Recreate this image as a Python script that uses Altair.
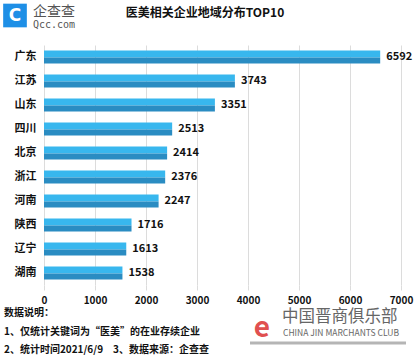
import altair as alt
import pandas as pd

regions = ["广东", "江苏", "山东", "四川", "北京", "浙江", "河南", "陕西", "辽宁", "湖南"]
counts = [6592, 3743, 3351, 2513, 2414, 2376, 2247, 1716, 1613, 1538]
x_ticks = [0, 1000, 2000, 3000, 4000, 5000, 6000, 7000]

title_text = "医美相关企业地域分布TOP10"
notes = ["数据说明：", "1、仅统计关键词为“医美”的在业存续企业",
         "2、统计时间2021/6/9\u30003、数据来源：企查查"]

df = pd.DataFrame({"region": regions, "count": counts})
FONT = "Noto Sans CJK SC"

y_enc = alt.Y("region:N", sort=regions, title=None,
              axis=alt.Axis(labelFont=FONT, labelFontSize=11, labelFontWeight="bold",
                            labelColor="#111", ticks=False, domain=False, labelPadding=8))
x_enc = alt.X("count:Q", title=None,
              scale=alt.Scale(domain=[0, 7000], nice=False),
              axis=alt.Axis(values=x_ticks, grid=True, gridColor="#dcdcdc", domain=False,
                            ticks=True, tickColor="#dcdcdc", tickSize=5, format="d",
                            labelFlush=False,
                            labelFont=FONT, labelFontSize=10, labelFontWeight="bold",
                            labelColor="#111", labelPadding=5))

base = alt.Chart(df)
top = base.mark_bar(size=7, yOffset=-3, color="#38b7ee").encode(y=y_enc, x=x_enc)
bottom = base.mark_bar(size=6, yOffset=3.5, color="#2a8cc2").encode(y=y_enc, x=x_enc)
labels = base.mark_text(align="left", baseline="middle", dx=6, font=FONT, fontSize=11,
                        fontWeight="bold", color="#111").encode(
    y=y_enc, x=x_enc, text="count:Q")

def txt(s, x, y, size, weight="normal", color="#111", align="left", font=FONT):
    return alt.Chart(pd.DataFrame({"t": [s]})).mark_text(
        align=align, baseline="middle", font=font, fontSize=size, fontWeight=weight,
        color=color).encode(x=alt.value(x), y=alt.value(y), text="t:N")

logo_box = alt.Chart(pd.DataFrame({"t": [1]})).mark_point(
    shape="square", filled=True, size=560, color="#1e8fe6", opacity=1).encode(
    x=alt.value(-29), y=alt.value(-29.5))

shadow = alt.Chart(pd.DataFrame({"t": [1]})).mark_rule(
    color="#b5b5b5", strokeWidth=3).encode(
    x=alt.value(206), x2=alt.value(362), y=alt.value(298))

deco = [
    txt(title_text, 161, -32, 12, "bold", align="center"),
    logo_box,
    txt("C", -29, -29.5, 17, "bold", color="white", align="center", font="DejaVu Sans"),
    txt("企查查", -11, -33, 14, color="#555"),
    txt("Qcc.com", -11, -20.5, 10, color="#555", font="DejaVu Sans Mono"),
    txt(notes[0], -40, 268, 10, "bold"),
    txt(notes[1], -40, 287, 10, "bold"),
    txt(notes[2], -40, 305, 10, "bold"),
    shadow,
    txt("中国晋商俱乐部", 238, 272, 16.5, color="#666"),
    txt("CHINA JIN MARCHANTS CLUB", 239, 288, 8.5, color="#666"),
    txt("e", 218, 284, 28, "bold", color="#e05050", align="center"),
]

chart = alt.layer(top, bottom, labels, *deco).properties(
    width=357, height=240,
    autosize=alt.AutoSizeParams(type="none"),
    padding={"left": 44, "top": 45, "right": 16, "bottom": 70},
    background="white",
).configure_view(stroke=None)

chart.save("out.html", embed_options={"renderer": "svg", "actions": False})
